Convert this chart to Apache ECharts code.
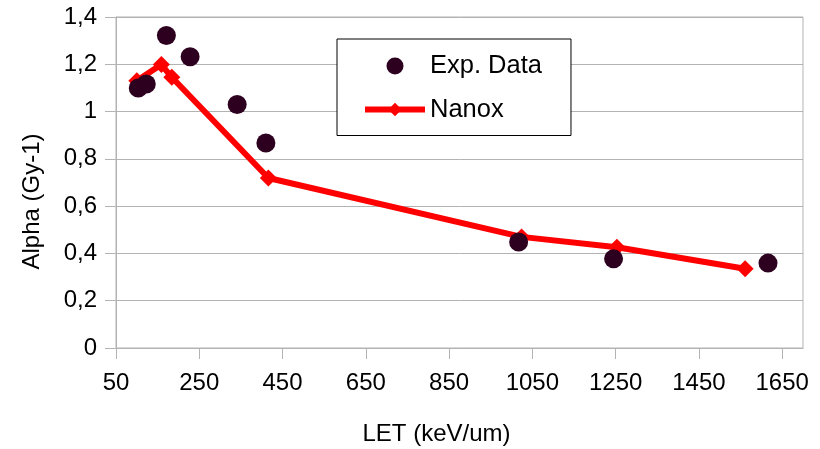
<!DOCTYPE html>
<html>
<head>
<meta charset="utf-8">
<script src="https://cdn.jsdelivr.net/npm/echarts@6/dist/echarts.min.js"></script>
<style>
  html, body { margin: 0; padding: 0; background: #ffffff; }
  #chart { width: 820px; height: 449px; }
</style>
</head>
<body>
<div id="chart"></div>
<script>
// Measured alpha values (LET in keV/um, alpha in Gy-1)
const expLet   = [103.5, 122.7, 171, 228, 341, 410, 1017, 1245, 1616];
const expAlpha = [1.10, 1.117, 1.322, 1.232, 1.03, 0.867, 0.448, 0.377, 0.359];

// Nanox model predictions
const nanoxLet   = [100, 159, 184, 416, 1024, 1253, 1561];
const nanoxAlpha = [1.13, 1.199, 1.145, 0.719, 0.47, 0.426, 0.335];

// Axis tick labels
const xTicks = [50, 250, 450, 650, 850, 1050, 1250, 1450, 1650];

const seriesNames = ['Exp. Data', 'Nanox'];

const pair = (xs, ys) => xs.map((x, i) => [x, ys[i]]);

const font = 'Liberation Sans, Arial, sans-serif';
const gridColor = '#b3b3b3';

const chart = echarts.init(document.getElementById('chart'), null, { renderer: 'canvas' });

chart.setOption({
  animation: false,
  backgroundColor: '#ffffff',
  textStyle: { fontFamily: font },
  grid: {
    left: 116, right: 17, top: 17, bottom: 101,
    containLabel: false,
    outerBoundsMode: 'none',
    show: true,
    borderColor: gridColor,
    borderWidth: 1
  },
  legend: {
    data: seriesNames,
    orient: 'vertical',
    left: 337,
    top: 39,
    padding: [14, 29, 13, 25],
    itemGap: 17.5,
    itemWidth: 60,
    itemHeight: 17,
    borderColor: '#000000',
    borderWidth: 1,
    backgroundColor: '#ffffff',
    textStyle: { fontFamily: font, fontSize: 25.5, color: '#000000' },
    lineStyle: { width: 6 }
  },
  xAxis: {
    type: 'value',
    min: 50,
    max: 1700,
    interval: 200,
    name: 'LET (keV/um)',
    nameLocation: 'middle',
    nameGap: 74,
    nameTextStyle: { fontFamily: font, fontSize: 24, color: '#000000', padding: [0, 46, 0, 0] },
    axisLine: { show: true, lineStyle: { color: gridColor, width: 1 } },
    axisTick: { show: true, length: 11, inside: false, customValues: xTicks, lineStyle: { color: gridColor } },
    axisLabel: {
      customValues: xTicks,
      margin: 23,
      fontFamily: font,
      fontSize: 24,
      color: '#000000',
      formatter: v => String(v)
    },
    splitLine: { show: false }
  },
  yAxis: {
    type: 'value',
    min: 0,
    max: 1.4,
    interval: 0.2,
    name: 'Alpha (Gy-1)',
    nameLocation: 'middle',
    nameGap: 72,
    nameTextStyle: { fontFamily: font, fontSize: 24, color: '#000000', padding: [0, 38, 0, 0] },
    axisLine: { show: true, lineStyle: { color: gridColor, width: 1 } },
    axisTick: { show: true, length: 11, inside: false, lineStyle: { color: gridColor } },
    axisLabel: {
      margin: 19,
      fontFamily: font,
      fontSize: 24,
      color: '#000000',
      formatter: v => String(Number(v.toFixed(1))).replace('.', ',')
    },
    splitLine: { show: true, lineStyle: { color: gridColor, width: 1 } }
  },
  series: [
    {
      name: 'Nanox',
      type: 'line',
      data: pair(nanoxLet, nanoxAlpha),
      symbol: 'diamond',
      symbolSize: 17,
      showAllSymbol: true,
      lineStyle: { color: '#ff0000', width: 6 },
      itemStyle: { color: '#ff0000' },
      z: 2
    },
    {
      name: 'Exp. Data',
      type: 'scatter',
      data: pair(expLet, expAlpha),
      symbol: 'circle',
      symbolSize: 19,
      itemStyle: { color: '#2d0020', opacity: 1 },
      z: 3
    }
  ]
});
</script>
</body>
</html>
